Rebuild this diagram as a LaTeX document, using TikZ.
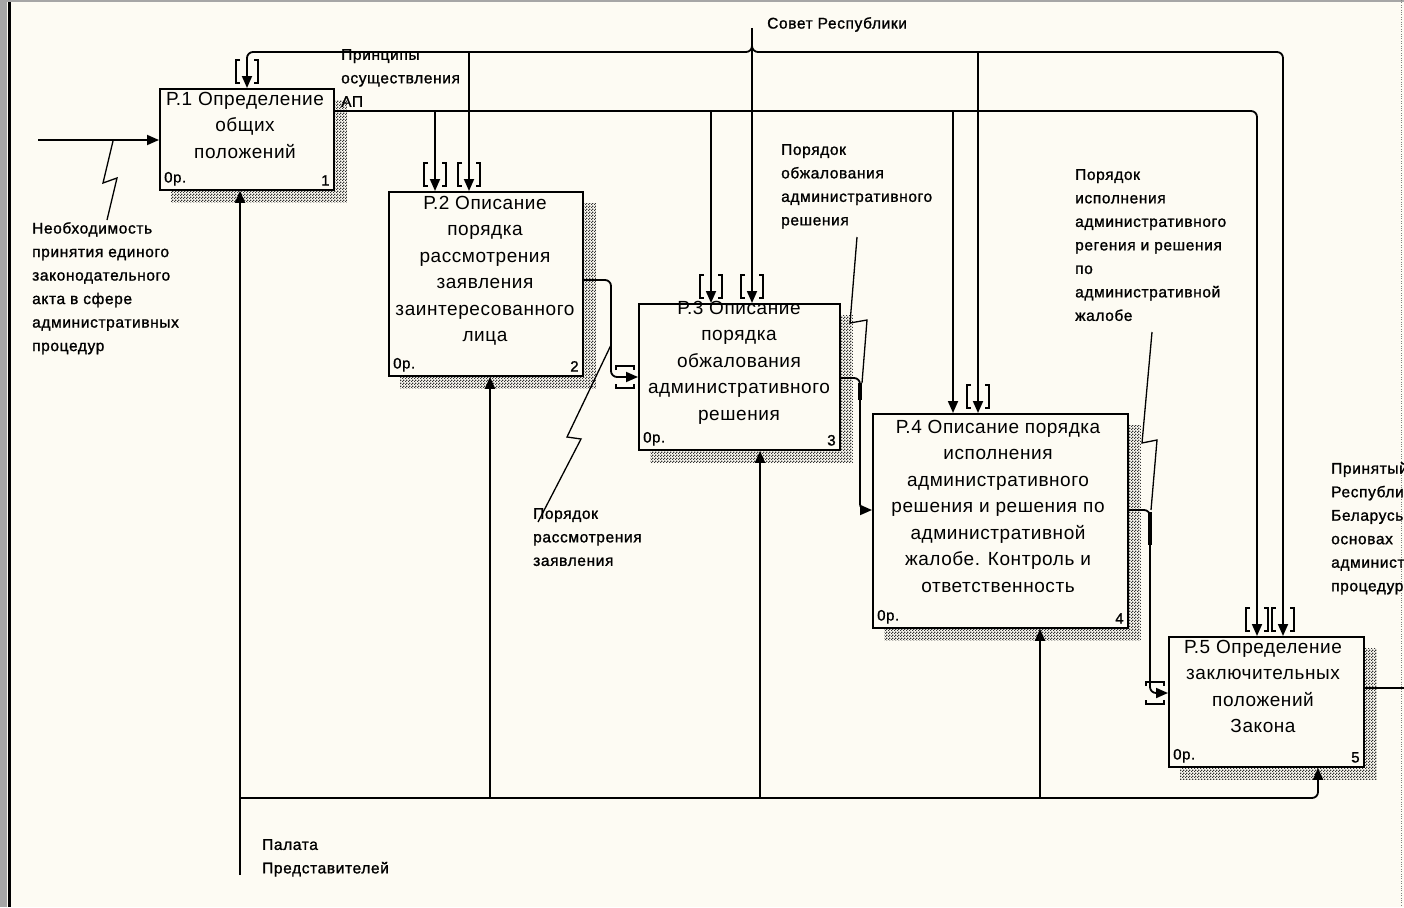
\documentclass[tikz,border=0pt]{standalone}
\usepackage{fontspec}
\setmainfont{Liberation Sans}
\newfontfamily\boxfont[LetterSpace=3]{Liberation Sans}
\newfontfamily\lblfont[LetterSpace=4,FakeBold=1.2]{Liberation Sans}
\usetikzlibrary{arrows.meta,patterns,backgrounds}
\definecolor{paper}{RGB}{253,251,243}
\pgfdeclarepatternformonly{shadecheck}{\pgfpointorigin}{\pgfpoint{3pt}{3pt}}{\pgfpoint{3pt}{3pt}}{%
  \pgfpathrectangle{\pgfpointorigin}{\pgfpoint{1.5pt}{1.5pt}}%
  \pgfpathrectangle{\pgfpoint{1.5pt}{1.5pt}}{\pgfpoint{1.5pt}{1.5pt}}%
  \pgfusepath{fill}}
\tikzset{
  proc/.style={draw,line width=1.8pt,fill=paper,inner sep=0pt,anchor=north west},
  boxshade/.style={pattern=shadecheck,pattern color=black!80},
  ptext/.style={font=\boxfont\fontsize{19}{26.5}\selectfont,align=center,inner sep=0pt,anchor=north},
  pnum/.style={font=\lblfont\fontsize{15}{18}\selectfont,inner sep=0pt},
  lbl/.style={font=\lblfont\fontsize{15.5}{23.5}\selectfont,align=left,inner sep=0pt,anchor=north west},
  flow/.style={line width=1.8pt,-{Triangle[length=12pt,width=10pt]},rounded corners=6pt},
  wire/.style={line width=1.8pt,rounded corners=6pt},
  squig/.style={line width=1.3pt},
  tun/.style={line width=1.8pt}
}
% tunnel brackets: #1 = x of arrow, #2 = y of box edge
\newcommand\tunv[2]{%
  \draw[tun] (#1-7,#2-28) -| (#1-11,#2-5) -- (#1-7,#2-5);
  \draw[tun] (#1+7,#2-28) -| (#1+11,#2-5) -- (#1+7,#2-5);}
\newcommand\tunh[2]{%
  \draw[tun] (#1-22,#2-7) |- (#1-4,#2-11) -- (#1-4,#2-7);
  \draw[tun] (#1-22,#2+7) |- (#1-4,#2+11) -- (#1-4,#2+7);}
\begin{document}
\begin{tikzpicture}[x=1pt,y=-1pt]
  \useasboundingbox (0,0) rectangle (1404,907);
  \clip (0,0) rectangle (1404,907);
  \begin{scope}[on background layer]
    \fill[paper] (0,0) rectangle (1404,907);
  \end{scope}
  \fill[black!35] (0,0) rectangle (7,907);
  \draw[line width=2.5pt] (9.5,0) -- (9.5,907);
  \draw[black!35,line width=1.5pt] (0,1) -- (1404,1);
  \draw[black!50,dotted] (1401,0) -- (1401,907);

  % blocks
  \node[proc,minimum width=174pt,minimum height=101pt] (p1) at (159,88) {};
  \node[proc,minimum width=194pt,minimum height=184pt] (p2) at (388,191) {};
  \node[proc,minimum width=201pt,minimum height=146pt] (p3) at (638,303) {};
  \node[proc,minimum width=255pt,minimum height=214pt] (p4) at (872,413) {};
  \node[proc,minimum width=195pt,minimum height=130pt] (p5) at (1168,636) {};
  \begin{scope}[on background layer]
    \foreach \n in {1,...,5}
      \fill[boxshade] ([xshift=12pt,yshift=-12pt]p\n.north west) rectangle ([xshift=12pt,yshift=-12pt]p\n.south east);
  \end{scope}
  \node[ptext] (p1t) at (245,92) {Р.1 Определение\\общих\\положений};
  \node[ptext] (p2t) at (485,196) {Р.2 Описание\\порядка\\рассмотрения\\заявления\\заинтересованного\\лица};
  \node[ptext] (p3t) at (739,301) {Р.3 Описание\\порядка\\обжалования\\административного\\решения};
  \node[ptext] (p4t) at (998,420) {Р.4 Описание порядка\\исполнения\\административного\\решения и решения по\\административной\\жалобе. Контроль и\\ответственность};
  \node[ptext] (p5t) at (1263,640) {Р.5 Определение\\заключительных\\положений\\Закона};
  \foreach \n in {1,...,5} {
    \node[pnum,anchor=south west] at ([xshift=5pt,yshift=5pt]p\n.south west) {0р.};
    \node[pnum,anchor=south east] at ([xshift=-5pt,yshift=5pt]p\n.south east) {\n};
  }

  % labels
  \node[lbl] (need) at (32,222) {Необходимость\\принятия единого\\законодательного\\акта в сфере\\административных\\процедур};
  \node[lbl] (princ) at (341,49) {Принципы\\осуществления\\АП};
  \node[lbl] (sovet) at (767,17) {Совет Республики};
  \node[lbl] (obzh) at (781,144) {Порядок\\обжалования\\административного\\решения};
  \node[lbl] (ispoln) at (1075,169) {Порядок\\исполнения\\административного\\регения и решения\\по\\административной\\жалобе};
  \node[lbl] (rassm) at (533,508) {Порядок\\рассмотрения\\заявления};
  \node[lbl] (palata) at (262,839) {Палата\\Представителей};
  \node[lbl] (zakon) at (1331,462) {Принятый Закон\\Республики\\Беларусь об\\основах\\административных\\процедур};

  % input and output
  \coordinate (in1) at (38,140);
  \coordinate (out5) at (1404,688);
  \draw[flow] (in1) -- (p1.west |- in1);
  \draw[wire] (p5.east |- out5) -- (out5);

  % controls
  \coordinate (sv) at (752,28);
  \draw[flow] (sv) -- (752,0 |- p3.north);
  \draw[flow] (752,44) |- (247,52) -- (247,0 |- p1.north);
  \draw[flow] (752,44) |- (1283,52) -- (1283,0 |- p5.north);
  \draw[flow] (469,52) -- (469,0 |- p2.north);
  \draw[flow] (978,52) -- (978,0 |- p4.north);
  \draw[flow] (p1.east |- 0,111) -- (1257,111) -- (1257,0 |- p5.north);
  \draw[flow] (435,111) -- (435,0 |- p2.north);
  \draw[flow] (711,111) -- (711,0 |- p3.north);
  \draw[flow] (953,111) -- (953,0 |- p4.north);

  % outputs between blocks
  \draw[flow] (p2.east |- 0,280) -| (611,377) -- (p3.west |- 0,377);
  \draw[flow] (p3.east |- 0,378) -| (860,510) -- (p4.west |- 0,510);
  \draw[flow] (p4.east |- 0,510) -| (1150,693) -- (p5.west |- 0,693);
  \draw[line width=3.2pt] (860,383) -- (860,400);
  \draw[line width=3.2pt] (1150,512) -- (1150,545);

  % mechanisms
  \coordinate (pal) at (240,875);
  \draw[flow] (pal) -- (240,0 |- p1.south);
  \draw[flow] (240,798) -- (1318,798) -- (1318,0 |- p5.south);
  \draw[flow] (490,798) -- (490,0 |- p2.south);
  \draw[flow] (760,798) -- (760,0 |- p3.south);
  \draw[flow] (1040,798) -- (1040,0 |- p4.south);

  % tunnels
  \tunv{247}{88}
  \tunv{435}{191} \tunv{469}{191}
  \tunv{711}{303} \tunv{752}{303}
  \tunv{978}{413}
  \tunv{1257}{636} \tunv{1283}{636}
  \tunh{638}{377}
  \tunh{1168}{693}

  % squiggles
  \draw[squig] (107,220) -- (117,178) -- (103,183) -- (113,141);
  \draw[squig] (538,522) -- (581,439) -- (567,437) -- (611,345);
  \draw[squig] (857,237) -- (850,323) -- (867,320) -- (862,383);
  \draw[squig] (1152,332) -- (1142,443) -- (1157,440) -- (1151,510);
\end{tikzpicture}
\end{document}
